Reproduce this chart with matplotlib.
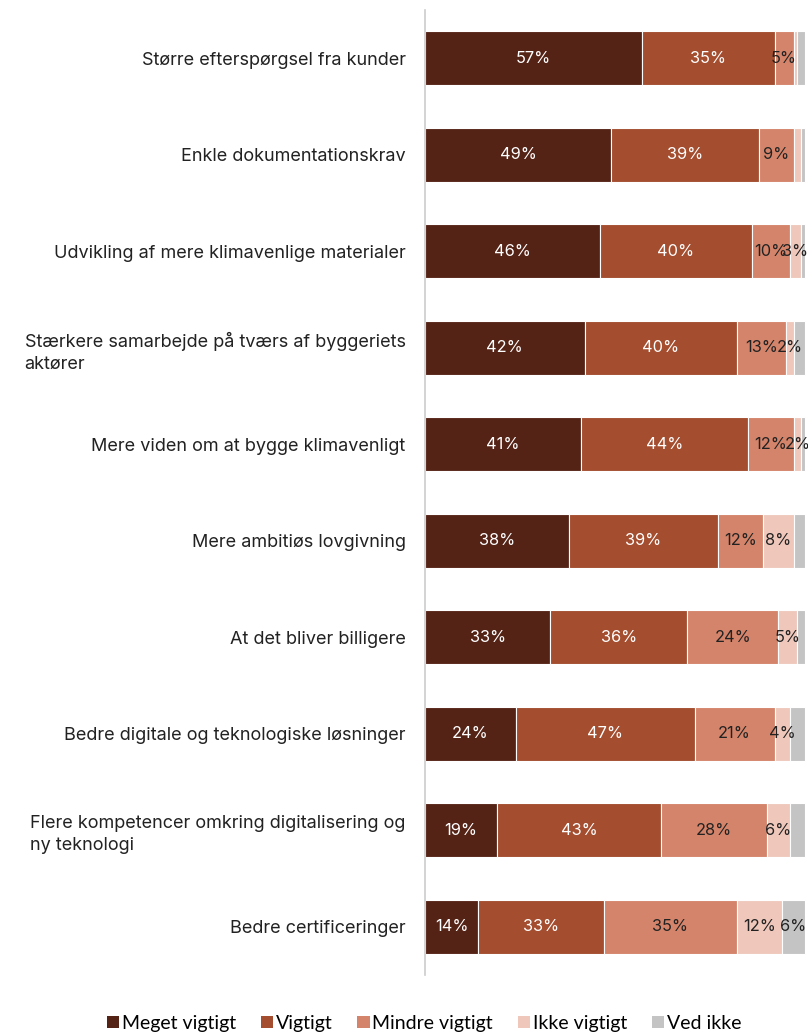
import numpy as np
import matplotlib.pyplot as plt
from matplotlib.patches import Patch

categories = [
    "Større efterspørgsel fra kunder",
    "Enkle dokumentationskrav",
    "Udvikling af mere klimavenlige materialer",
    "Stærkere samarbejde på tværs af byggeriets\naktører",
    "Mere viden om at bygge klimavenligt",
    "Mere ambitiøs lovgivning",
    "At det bliver billigere",
    "Bedre digitale og teknologiske løsninger",
    "Flere kompetencer omkring digitalisering og\nny teknologi",
    "Bedre certificeringer",
]
series = ["Meget vigtigt", "Vigtigt", "Mindre vigtigt", "Ikke vigtigt", "Ved ikke"]
meget = [57, 49, 46, 42, 41, 38, 33, 24, 19, 14]
vigtigt = [35, 39, 40, 40, 44, 39, 36, 47, 43, 33]
mindre = [5, 9, 10, 13, 12, 12, 24, 21, 28, 35]
ikke = [1, 2, 3, 2, 2, 8, 5, 4, 6, 12]
ved_ikke = [2, 1, 1, 3, 1, 3, 2, 4, 4, 6]

colors = ["#552316", "#a44d2f", "#d4846a", "#efc7bb", "#c4c4c4"]
text_colors = ["white", "white", "#222222", "#222222", "#222222"]
min_label = [1, 1, 1, 2, 5]
# labels the source leaves out (row, series)
hidden = [(1, 3)]

plt.rcParams['font.family'] = ['Inter', 'DejaVu Sans']

fig = plt.figure(figsize=(8.08, 10.33), dpi=100)
ax = fig.add_axes([425 / 808, 58 / 1033, 383 / 808, 965 / 1033])

data = [meget, vigtigt, mindre, ikke, ved_ikke]
y = np.arange(len(categories))
left = np.zeros(len(categories))
for si, (vals, col, tc, ml) in enumerate(zip(data, colors, text_colors, min_label)):
    vals = np.array(vals, dtype=float)
    ax.barh(y, vals, left=left, height=0.56, color=col, edgecolor="white", linewidth=0.8)
    for yi, (l, v) in enumerate(zip(left, vals)):
        if v >= ml and (yi, si) not in hidden:
            ax.text(l + v / 2, yi, f"{int(v)}%", ha="center", va="center",
                    color=tc, fontsize=11.8)
    left += vals

ax.set_xlim(0, 100.8)
ax.set_ylim(9.5, -0.5)
ax.set_yticks(y)
ax.set_yticklabels(categories, fontsize=13, color="#222222", multialignment="left",
                   linespacing=1.4)
ax.tick_params(axis="y", length=0, pad=14)
ax.set_xticks([])
for s in ["top", "right", "bottom"]:
    ax.spines[s].set_visible(False)
ax.spines["left"].set_color("#cccccc")
ax.spines["left"].set_linewidth(1.2)

handles = [Patch(facecolor=c, label=s) for c, s in zip(colors, series)]
fig.legend(handles=handles, loc="lower center", bbox_to_anchor=(0.525, -0.016), ncol=5,
           frameon=False, handlelength=0.62, handleheight=0.62, handletextpad=0.15,
           columnspacing=1.28, prop={"family": "Lato", "size": 14})

fig.savefig("out.png", dpi=100)
